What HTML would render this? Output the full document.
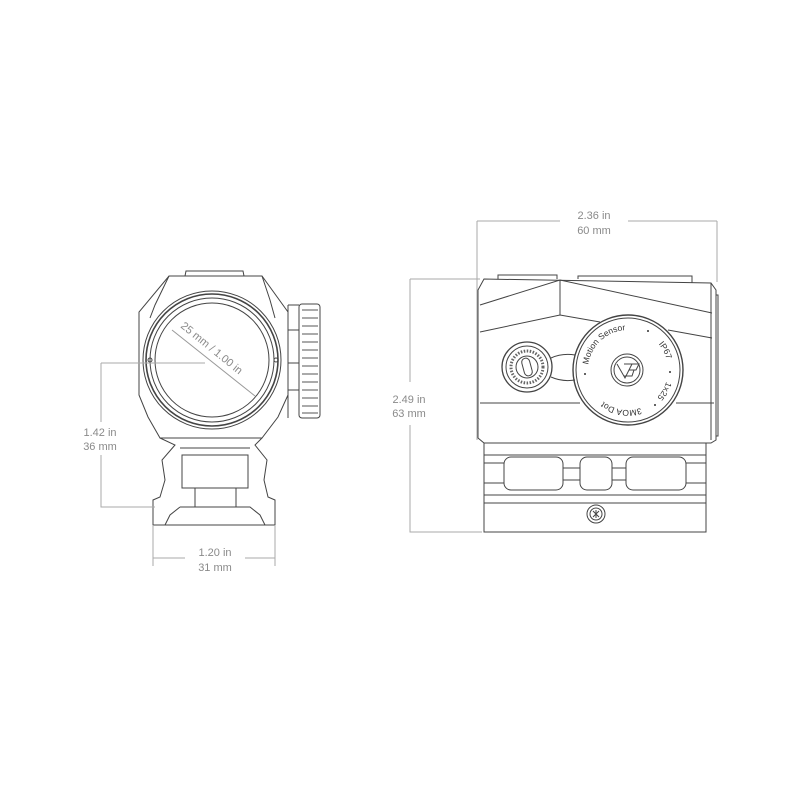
<!DOCTYPE html>
<html><head><meta charset="utf-8"><style>
html,body{margin:0;padding:0;background:#fff;}
svg{display:block;}
text{font-family:"Liberation Sans",sans-serif;fill:#8a8a8a;font-size:11px;}
.l{fill:none;stroke:#444;stroke-width:1;}
.d{fill:none;stroke:#aaa;stroke-width:1;}
.t{fill:#333;font-size:8.5px;}
</style></head><body>
<svg width="800" height="800" viewBox="0 0 800 800" xmlns="http://www.w3.org/2000/svg">
<!-- LEFT VIEW -->
<g class="l">
<path d="M185 276 L186 271 L243 271 L244 276"/>
<path d="M169 276 L262 276 L288 312 L288 395 L278 417 L262 438 L160 438 L148 417 L139 395 L139 312 Z"/>
<path d="M169 276 L155 305 L150 318 M262 276 L270 300 L275 318"/>
<path d="M288 305 L299 305 M288 330 L299 330 M288 363 L299 363 M288 390 L299 390 M288 305 L288 418"/>
<rect x="299" y="304" width="21" height="114" rx="3"/>
<path d="M302 310 H318 M302 318 H318 M302 326 H318 M302 334 H318 M302 342 H318 M302 350 H318 M302 358 H318 M302 366 H318 M302 374 H318 M302 382 H318 M302 390 H318 M302 398 H318 M302 406 H318 M302 413 H318" stroke="#555"/>
<circle cx="212" cy="360" r="69"/>
<circle cx="212" cy="360" r="66" stroke-width="1.6"/>
<circle cx="212" cy="360" r="62"/>
<circle cx="212" cy="360" r="57"/>
<circle cx="150" cy="360" r="2"/><circle cx="276" cy="360" r="2"/>
<path d="M160 438 L175 445 L162 460 L165 480 L160 497 L153 500 L153 525 L275 525 L275 500 L268 497 L264 480 L267 460 L255 445 L262 438"/>
<path d="M180 448 L250 448 M182 455 L248 455 L248 488 L182 488 Z M195 488 L195 507 M236 488 L236 507"/>
<path d="M180 507 L250 507 L260 515 L265 525 M180 507 L170 515 L165 525"/>
</g>
<g class="d">
<path d="M101 363 H205 M101 363 V422 M101 455 V507 H155"/>
<path d="M153 525 V566 M275 525 V566 M153 558 H185 M245 558 H275"/>
<path d="M172 330 L255 396" stroke="#999"/>
</g>
<text x="100" y="436" text-anchor="middle">1.42 in</text>
<text x="100" y="450" text-anchor="middle">36 mm</text>
<text x="215" y="556" text-anchor="middle">1.20 in</text>
<text x="215" y="571" text-anchor="middle">31 mm</text>
<text x="0" y="0" transform="translate(180,327) rotate(39)">25 mm / 1.00 in</text>

<!-- RIGHT VIEW -->
<g class="d">
<path d="M477 221 H560 M628 221 H717 M477 221 V440 M717 221 V282"/>
<path d="M410 279 H480 M410 279 V382 M410 425 V532 H482"/>
</g>
<text x="594" y="219" text-anchor="middle">2.36 in</text>
<text x="594" y="234" text-anchor="middle">60 mm</text>
<text x="409" y="403" text-anchor="middle">2.49 in</text>
<text x="409" y="417" text-anchor="middle">63 mm</text>
<g class="l">
<path d="M498 279 V275 H557 V279 M578 279 V276 H692 V283"/>
<path d="M484 279 L711 283 L716 290 L716 440 L711 443 L484 443 L478 438 L478 290 Z"/>
<path d="M711 283 V440 M716 295 H718 V436 H716"/>
<path d="M480 305 L560 280 L712 313 M560 280 V315 M480 332 L560 315 L600 322 M668 330 L712 338"/>
<path d="M480 403 L580 403 M676 403 L714 403"/>
<circle cx="628" cy="370" r="55" stroke-width="1.4"/>
<circle cx="628" cy="370" r="52"/>
<circle cx="627" cy="370" r="16"/>
<circle cx="627" cy="370" r="13"/>
<path d="M617 364 L625 378 L632 364 M624 364 H639 L636 370 H629 M629 370 H634 L632 376 H624"/>
<circle cx="527" cy="367" r="25" stroke-width="1.3"/>
<circle cx="527" cy="367" r="21"/>
<circle cx="527" cy="367" r="16" stroke-dasharray="1.5 1.5" stroke-width="3" stroke="#666"/>
<circle cx="527" cy="367" r="11"/>
<rect x="523" y="358" width="8" height="18" rx="4" transform="rotate(-15 527 367)"/>
<path d="M551 358 Q562 353 575 355 M551 377 Q562 382 575 380"/>
<path d="M484 443 L484 532 L706 532 L706 443 M484 455 H706 M484 463 H504 M686 463 H706 M484 483 H504 M686 483 H706 M484 495 H706 M484 503 H706"/>
<rect x="504" y="457" width="59" height="33" rx="7"/>
<rect x="580" y="457" width="32" height="33" rx="7"/>
<rect x="626" y="457" width="60" height="33" rx="7"/>
<path d="M563 468 H580 M563 480 H580 M612 468 H626 M612 480 H626"/>
<circle cx="596" cy="514" r="9"/>
<circle cx="596" cy="514" r="6"/>
<path d="M593 511 L599 517 M599 511 L593 517 M596 510 V518"/>
</g>
<defs>
<path id="ring" d="M628 410 A40 40 0 0 1 588 370 A40 40 0 0 1 668 370 A40 40 0 0 1 588 370 A40 40 0 0 1 668 370 A40 40 0 0 1 628 410"/>
</defs>
<text class="t"><textPath href="#ring" startOffset="68">Motion Sensor</textPath></text>
<text class="t"><textPath href="#ring" startOffset="160">IP67</textPath></text>
<text class="t"><textPath href="#ring" startOffset="200">1x25</textPath></text>
<text class="t"><textPath href="#ring" startOffset="238">3MOA Dot</textPath></text>
<circle cx="648" cy="331" r="1" fill="#333"/><circle cx="670" cy="372" r="1" fill="#333"/><circle cx="655" cy="405" r="1" fill="#333"/><circle cx="585" cy="374" r="1" fill="#333"/>
</svg>
</body></html>
